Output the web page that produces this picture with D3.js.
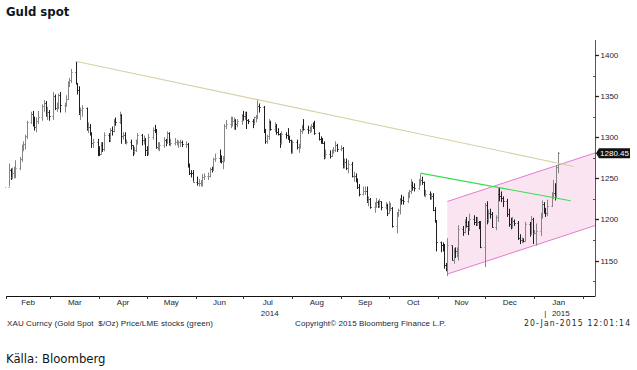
<!DOCTYPE html>
<html><head><meta charset="utf-8">
<script src="https://cdn.jsdelivr.net/npm/d3@7"></script>
<style>body{margin:0;background:#fff}svg{display:block}</style>
</head><body>
<svg id="c" width="637" height="370"></svg>
<script>
// ---- data (daily XAU spot bars, weekdays from firstDay to lastDay) ----
const firstDay = "2014-01-31", lastDay = "2015-01-16";
const high = [
 1252,
 1268,1262,1263,1264,1272, 1276,1291,1295,1303,1320, 1331,1332,1325,1324,1332, 1340,1345,1344,1337,1333,
 1355,1352,1342,1353,1355, 1342,1351,1368,1372,1383, 1392,1366,1362,1336,1339, 1336,1318,1316,1306,1298, 1298,
 1289,1294,1294,1306, 1305,1311,1313,1322,1324, 1331,1328,1306,1306,1297, 1297,1290,1288,1297,1305, 1304,1302,1299,
 1289,1304, 1312,1315,1310,1294,1294, 1300,1298,1307,1306,1298, 1299,1297,1296,1297,1296, 1295,1293,1268,1260,1260,
 1252,1249,1248,1255,1256, 1257,1263,1264,1275,1280, 1285,1278,1277,1316,1321, 1325,1325,1324,1322,1322, 1328,
 1332,1331,1331,1322, 1322,1325,1327,1345,1341, 1338,1310,1303,1322,1320, 1318,1316,1311,1305,1307, 1306,1311,1302,1297,
 1296, 1297,1292,1310,1315,1322, 1314,1313,1316,1318,1320, 1306,1301,1299,1295,1285, 1284,1285,1288,1295,1292,
 1290,1288,1274,1274,1272, 1270,1258,1256,1250,1243, 1240,1240,1240,1228,1226, 1221,1226,1223,1225,1222, 1221,1219,
 1222,1220,1215, 1209,1213,1226,1230,1228, 1233,1236,1249,1246,1244, 1249,1255,1252,1246,1236, 1234,1232,1232,1215,1199,
 1173,1172,1170,1147,1177, 1168,1165,1166,1166,1193, 1192,1200,1203,1198,1207, 1205,1203,1203,1198,1198,
 1220,1222,1212,1213,1209, 1205,1238,1239,1234,1228, 1225,1213,1202,1203,1200, 1198,1182,1178,1177,1197, 1197,1204,1202,
 1187,1195, 1208,1223,1221,1214,1224, 1233,1248,1244,1266,1282
];
const low = [
 1238,
 1240,1248,1249,1250,1250, 1260,1270,1283,1285,1298, 1316,1313,1308,1306,1316, 1320,1331,1325,1321,1320,
 1321,1333,1331,1334,1330, 1330,1337,1345,1361,1366, 1364,1352,1327,1321,1325, 1308,1305,1302,1287,1287, 1277,
 1277,1279,1282,1283, 1294,1294,1302,1306,1314, 1316,1292,1297,1292,1291, 1285,1277,1279,1282,1291, 1290,1291,1277,
 1277,1278, 1297,1305,1286,1284,1283, 1287,1289,1292,1290,1289, 1290,1290,1287,1288,1288, 1287,1263,1254,1251,1246,
 1241,1240,1240,1240,1248, 1248,1251,1257,1259,1270, 1269,1268,1261,1270,1310, 1311,1313,1309,1309,1312, 1315,
 1320,1321,1310,1316, 1311,1315,1318,1322,1330, 1305,1292,1292,1297,1308, 1306,1303,1302,1287,1291, 1298,1297,1293,1280,
 1280, 1285,1281,1286,1304,1308, 1304,1305,1306,1310,1303, 1296,1292,1292,1273,1274, 1274,1276,1280,1282,1282,
 1283,1262,1262,1260,1256, 1251,1246,1245,1237,1228, 1229,1230,1220,1216,1213, 1208,1214,1214,1214,1211, 1212,1204,
 1207,1210,1190, 1183,1203,1206,1218,1218, 1220,1226,1231,1235,1234, 1236,1241,1242,1228,1227, 1224,1224,1210,1196,1161,
 1160,1161,1140,1137,1131, 1150,1146,1153,1154,1150, 1180,1183,1190,1181,1186, 1193,1192,1192,1188,1165,
 1142,1194,1196,1201,1190, 1187,1197,1222,1221,1215, 1203,1191,1188,1189,1192, 1175,1170,1171,1172,1173, 1179,1181,1170,
 1182,1168, 1180,1201,1207,1203,1204, 1215,1225,1223,1226,1256
];
const close = [
 1240,
 1260,1251,1257,1257,1263, 1274,1289,1292,1301,1318, 1328,1321,1312,1320,1324, 1338,1342,1328,1331,1326,
 1350,1335,1340,1351,1339, 1340,1347,1367,1370,1379, 1366,1358,1330,1333,1335, 1311,1312,1304,1293,1294, 1283,
 1280,1291,1286,1303, 1298,1309,1307,1320,1318, 1327,1302,1303,1294,1294, 1290,1283,1285,1293,1303, 1296,1297,1284,
 1283,1300, 1309,1308,1288,1288,1291, 1296,1293,1305,1293,1293, 1294,1294,1294,1294,1292, 1292,1265,1257,1256,1246,
 1244,1244,1245,1252,1253, 1253,1261,1260,1274,1275, 1274,1271,1272,1314,1316, 1318,1320,1321,1316,1320, 1327,
 1326,1326,1321,1320, 1317,1324,1325,1338,1337, 1308,1295,1301,1318,1310, 1314,1306,1304,1293,1304, 1303,1298,1296,1282,
 1294, 1288,1289,1307,1312,1310, 1309,1310,1314,1313,1305, 1298,1296,1293,1276,1280, 1277,1283,1284,1290,1286,
 1287,1265,1270,1262,1268, 1253,1253,1248,1239,1231, 1235,1235,1222,1225,1215, 1217,1221,1218,1222,1215, 1218,1208,
 1214,1214,1192, 1206,1211,1225,1223,1222, 1229,1234,1242,1240,1238, 1244,1248,1245,1230,1231, 1228,1228,1212,1199,1172,
 1169,1168,1145,1142,1169, 1151,1162,1161,1162,1188, 1185,1197,1192,1191,1201, 1197,1196,1197,1196,1167,
 1218,1200,1208,1207,1191, 1203,1231,1229,1226,1222, 1207,1195,1194,1198,1196, 1177,1175,1175,1174,1195, 1182,1200,1184,
 1184,1186, 1205,1219,1211,1208,1216, 1232,1232,1229,1264,1280.45
];
const lastPrice = 1280.45;
const yTicks = [1150, 1200, 1250, 1300, 1350, 1400];
const yMinorTicks = [1125, 1175, 1225, 1275, 1325, 1375];
const monthLabels = ["Feb","Mar","Apr","May","Jun","Jul","Aug","Sep","Oct","Nov","Dec","Jan"];
const yearLabels = [["2014","Jul"],["2015","Jan"]];
// trend lines: [date, price]
const resistanceLine = [["2014-03-17", 1392.5], ["2015-01-26", 1264.3]];
const greenLine = [["2014-10-21", 1256.3], ["2015-01-24", 1222.6]];
const channelUpper = [["2014-11-07", 1221.8], ["2015-02-09", 1281.2]];
const channelLower = [["2014-11-07", 1133.5], ["2015-02-09", 1192.9]];
const title = "Guld spot";
const source = "Källa: Bloomberg";
const footLeft = "XAU Curncy (Gold Spot \u00A0$/Oz) Price/LME stocks (green)";
const footMid = "Copyright\u00A9 2015 Bloomberg Finance L.P.";
const footRight = "20-Jan-2015 12:01:14";

// ---- drawing ----
const parse = d3.timeParse("%Y-%m-%d");
const days = d3.timeDay.range(parse(firstDay), d3.timeDay.offset(parse(lastDay), 1))
  .filter(d => d.getDay() !== 0 && d.getDay() !== 6);
const bars = days.map((d, i) => ({
  date: d, high: high[i], low: low[i], close: close[i],
  open: i > 0 ? close[i - 1] : close[i]
}));

const svg = d3.select("#c");
const pL = 5, pR = 595, pT = 40, pB = 296;
const x = d3.scaleTime().domain([new Date(2014,1,1), new Date(2015,1,1)]).range([6, 583.3]);
const y = d3.scaleLinear().domain([1150, 1400]).range([260.5, 55]);

svg.append("defs").append("clipPath").attr("id","plot")
  .append("rect").attr("x", pL).attr("y", pT).attr("width", pR-pL).attr("height", pB-pT);
const g = svg.append("g").attr("clip-path","url(#plot)");

// channel
const chPoly = channelUpper.map(p => [x(parse(p[0])), y(p[1])])
  .concat(channelLower.slice().reverse().map(p => [x(parse(p[0])), y(p[1])]));
g.append("path").attr("d", "M" + chPoly.join("L") + "Z").attr("fill", "#fae4f1").attr("stroke", "none");
[channelUpper, channelLower].forEach(l => {
  g.append("line")
    .attr("x1", x(parse(l[0][0]))).attr("y1", y(l[0][1]))
    .attr("x2", x(parse(l[1][0]))).attr("y2", y(l[1][1]))
    .attr("stroke", "#e47ccc").attr("stroke-width", 1);
});

// bars
const bg = g.append("g");
bars.forEach(b => {
  const cx = Math.round(x(b.date)) + 0.5;
  const col = b.close < b.open ? "#1e1e1e" : "#858585";
  bg.append("line").attr("x1", cx).attr("x2", cx)
    .attr("y1", y(b.high)).attr("y2", y(b.low)).attr("stroke", col).attr("stroke-width", 1);
  bg.append("line").attr("x1", cx - 1).attr("x2", cx)
    .attr("y1", Math.round(y(b.open)) + 0.5).attr("y2", Math.round(y(b.open)) + 0.5)
    .attr("stroke", col).attr("stroke-width", 1);
  bg.append("line").attr("x1", cx).attr("x2", cx + 1.2)
    .attr("y1", Math.round(y(b.close)) + 0.5).attr("y2", Math.round(y(b.close)) + 0.5)
    .attr("stroke", col).attr("stroke-width", 1);
});

// trend lines
function tline(l, color) {
  g.append("line")
    .attr("x1", x(parse(l[0][0]))).attr("y1", y(l[0][1]))
    .attr("x2", x(parse(l[1][0]))).attr("y2", y(l[1][1]))
    .attr("stroke", color).attr("stroke-width", 1.1);
}
tline(resistanceLine, "#d8d1a6");
tline(greenLine, "#35e04f");

// right axis
const ax = svg.append("g").attr("font-family", "'Liberation Sans', Arial, sans-serif").attr("font-size", 8);
ax.append("line").attr("x1", pR + 0.5).attr("x2", pR + 0.5).attr("y1", pT).attr("y2", pB)
  .attr("stroke", "#555").attr("stroke-width", 1);
yTicks.forEach(v => {
  const yy = Math.round(y(v)) + 0.5;
  ax.append("line").attr("x1", pR).attr("x2", pR + 4).attr("y1", yy).attr("y2", yy)
    .attr("stroke", "#222").attr("stroke-width", 1.3);
  ax.append("text").attr("x", pR + 5.5).attr("y", yy).attr("dy", "0.35em")
    .attr("fill", "#1b2533").text(v);
});
yMinorTicks.forEach(v => {
  const yy = Math.round(y(v)) + 0.5;
  ax.append("line").attr("x1", pR - 2).attr("x2", pR).attr("y1", yy).attr("y2", yy)
    .attr("stroke", "#555").attr("stroke-width", 1);
});
// last price tag
const ly = y(lastPrice);
ax.append("path").attr("d", `M${pR+1},${ly} L${pR+4},${ly-5} L${pR+35},${ly-5} L${pR+35},${ly+5} L${pR+4},${ly+5} Z`)
  .attr("fill", "#111");
ax.append("text").attr("x", pR + 19.5).attr("y", ly).attr("dy", "0.35em").attr("text-anchor", "middle")
  .attr("fill", "#fff").text(lastPrice.toFixed(2));

// bottom axis
ax.append("line").attr("x1", pL + 1).attr("x2", pR + 0.5).attr("y1", pB + 0.5).attr("y2", pB + 0.5)
  .attr("stroke", "#111").attr("stroke-width", 1);
const months = d3.timeMonth.range(new Date(2014,1,1), new Date(2015,1,2));
months.forEach(m => {
  const xx = Math.round(x(m)) + 0.5;
  ax.append("line").attr("x1", xx).attr("x2", xx).attr("y1", pB).attr("y2", pB + 3)
    .attr("stroke", "#333").attr("stroke-width", 1);
});
monthLabels.forEach((lab, i) => {
  const xm = (x(months[i]) + x(months[i + 1])) / 2;
  ax.append("text").attr("x", xm).attr("y", 304.5).attr("text-anchor", "middle")
    .attr("fill", "#1b2533").text(lab);
});
yearLabels.forEach(([yr, m]) => {
  const i = monthLabels.lastIndexOf(m);
  const xm = (x(months[i]) + x(months[i + 1])) / 2;
  ax.append("text").attr("x", xm + 2).attr("y", 315.5).attr("text-anchor", "middle")
    .attr("fill", "#1b2533").text(yr);
});
ax.append("text").attr("x", x(months[11]) + 11).attr("y", 315.5).attr("text-anchor", "middle")
  .attr("fill", "#1b2533").text("|");

// footer
ax.append("text").attr("x", 7).attr("y", 326).attr("fill", "#1b2533")
  .attr("textLength", 206).attr("lengthAdjust", "spacing").text(footLeft);
ax.append("text").attr("x", 295).attr("y", 326).attr("fill", "#1b2533")
  .attr("textLength", 151).attr("lengthAdjust", "spacing").text(footMid);
ax.append("text").attr("x", 524).attr("y", 326).attr("fill", "#1b2533")
  .attr("font-family", "'DejaVu Sans Condensed', 'DejaVu Sans', sans-serif").attr("font-size", 8.5)
  .attr("textLength", 106).attr("lengthAdjust", "spacing").text(footRight);

// title & source
svg.append("text").attr("x", 6).attr("y", 16).attr("font-family", "'DejaVu Sans Condensed', 'DejaVu Sans', sans-serif")
  .attr("font-weight", "bold").attr("font-size", 13).attr("fill", "#0d1522").text(title);
svg.append("text").attr("x", 6).attr("y", 363).attr("font-family", "'DejaVu Sans Condensed', 'DejaVu Sans', sans-serif")
  .attr("font-size", 13).attr("fill", "#0d1522").text(source);
</script>
</body></html>
